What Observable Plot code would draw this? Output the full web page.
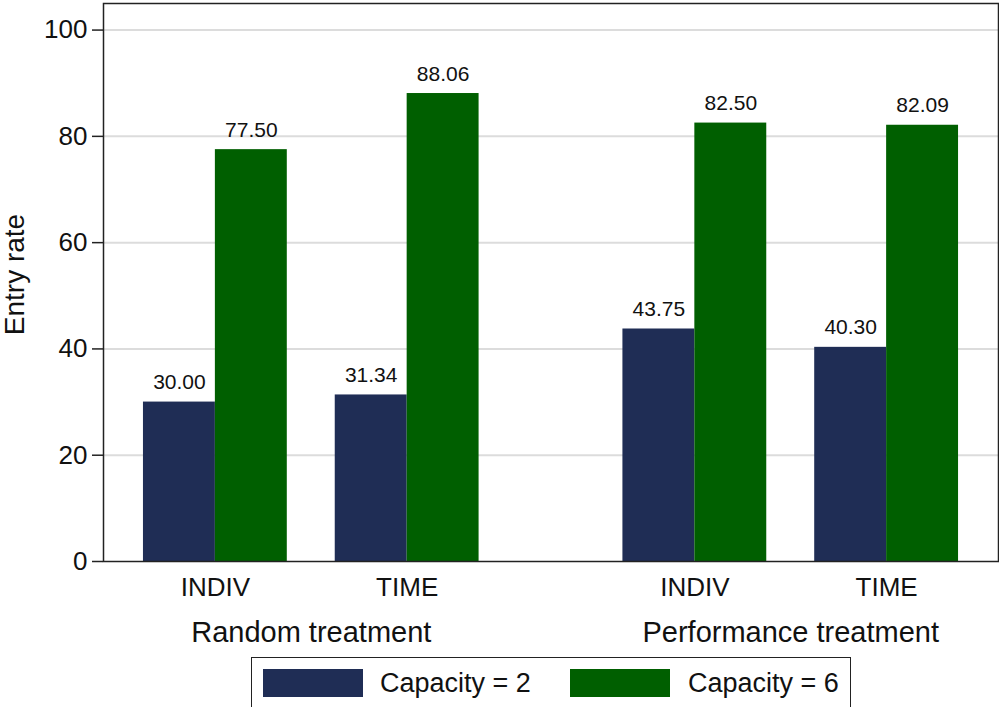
<!DOCTYPE html>
<html>
<head>
<meta charset="utf-8">
<script src="https://cdn.jsdelivr.net/npm/d3@7"></script>
<script src="https://cdn.jsdelivr.net/npm/@observablehq/plot@0.6"></script>
<style>
  html, body { margin: 0; padding: 0; background: #fff; }
  body { width: 999px; height: 707px; position: relative; overflow: hidden; font-family: "Liberation Sans", Arial, sans-serif; }
  #legend { position: absolute; left: 251px; top: 657px; width: 600px; height: 70px; border: 1.5px solid #222; box-sizing: border-box; }
  .sw { position: absolute; top: 11px; width: 100px; height: 28px; }
  .lt { position: absolute; top: 9px; font-size: 27px; line-height: 32px; color: #111; white-space: nowrap; }
</style>
</head>
<body>
<div id="chart"></div>
<div id="legend"></div>
<script>
// ---- data ----
const treatments = ["Random treatment", "Performance treatment"];
const types = ["INDIV", "TIME"];
const capacities = ["Capacity = 2", "Capacity = 6"];
const cap2Values = [30.00, 31.34, 43.75, 40.30];
const cap6Values = [77.50, 88.06, 82.50, 82.09];
const yTicks = [0, 20, 40, 60, 80, 100];
const colors = ["#1f2d55", "#005f00"];

// ---- layout (in bar-width units) ----
const groupGap = 2 / 3, treatGap = 2, outer = 5 / 9;
const groups = [];
treatments.forEach((t, ti) => types.forEach((ty, ki) => {
  const left = ti * (4 + groupGap + treatGap) + ki * (2 + groupGap);
  groups.push({treatment: t, type: ty, left, center: left + 1});
}));
const bars = [];
groups.forEach((g, gi) => {
  [cap2Values, cap6Values].forEach((vals, ci) => {
    bars.push({treatment: g.treatment, type: g.type, cap: capacities[ci], value: vals[gi], x1: g.left + ci, x2: g.left + ci + 1});
  });
});
const treatLabels = treatments.map(t => {
  const gs = groups.filter(g => g.treatment === t);
  return {treatment: t, center: d3.mean(gs, g => g.center)};
});
const xMax = groups[groups.length - 1].left + 2 + outer;

const chart = Plot.plot({
  width: 999,
  height: 655,
  marginTop: 3,
  marginBottom: 94,
  marginLeft: 103,
  marginRight: 1,
  style: {fontFamily: "'Liberation Sans', Arial, sans-serif", background: "#fff", overflow: "visible"},
  x: {domain: [-outer, xMax], axis: null},
  y: {domain: [0, 105], axis: null},
  color: {domain: capacities, range: colors},
  marks: [
    Plot.ruleY(yTicks.slice(1), {stroke: "#dcdcdc", strokeWidth: 2}),
    Plot.rectY(bars, {x1: "x1", x2: "x2", y1: 0, y2: "value", fill: "cap"}),
    Plot.text(bars, {x: d => (d.x1 + d.x2) / 2, y: "value", text: d => d.value.toFixed(2), lineAnchor: "bottom", dy: -13, fontSize: 21, fill: "#111"}),
    Plot.axisY({ticks: yTicks, tickSize: 11, tickPadding: 5, fontSize: 26, label: null, stroke: "#222", strokeWidth: 1.5, color: "#111"}),
    Plot.text(["Entry rate"], {frameAnchor: "left", text: d => d, rotate: -90, textAnchor: "middle", dx: -88, dy: -8, fontSize: 28, fill: "#111"}),
    Plot.frame({stroke: "#222", strokeWidth: 1.5}),
    Plot.text(groups, {x: "center", y: 0, text: "type", lineAnchor: "middle", dy: 26, fontSize: 26, fill: "#111"}),
    Plot.text(treatLabels, {x: "center", y: 0, text: "treatment", lineAnchor: "middle", dy: 71, fontSize: 29, fill: "#111"})
  ]
});
document.getElementById("chart").appendChild(chart);

// ---- legend ----
const legend = document.getElementById("legend");
const swLeft = [11, 318], txLeft = [128, 436];
capacities.forEach((c, i) => {
  const sw = document.createElement("div");
  sw.className = "sw"; sw.style.left = swLeft[i] + "px"; sw.style.background = colors[i];
  legend.appendChild(sw);
  const tx = document.createElement("div");
  tx.className = "lt"; tx.style.left = txLeft[i] + "px"; tx.textContent = c;
  legend.appendChild(tx);
});
</script>
</body>
</html>
